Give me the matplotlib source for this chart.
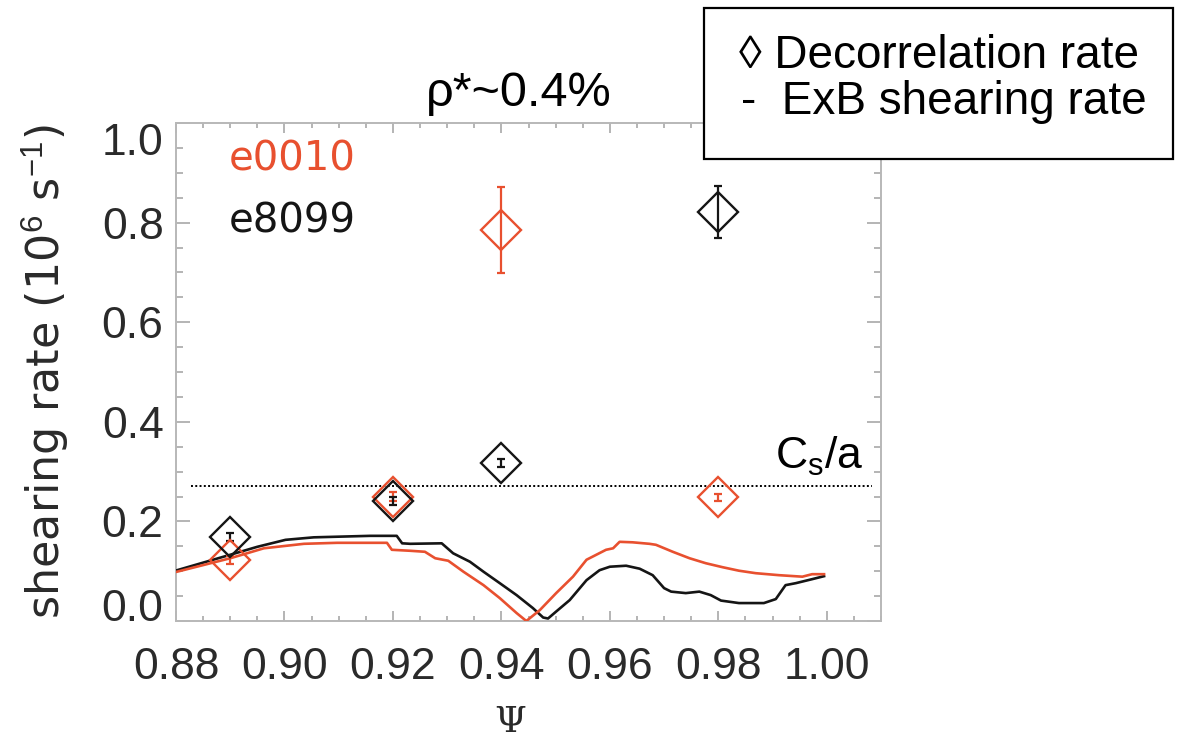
import matplotlib
matplotlib.use("Agg")
import matplotlib.pyplot as plt
from matplotlib.patches import Rectangle
from matplotlib.ticker import MultipleLocator, FixedLocator, FixedFormatter

plt.rcParams['font.family'] = ['Liberation Sans', 'DejaVu Sans']
plt.rcParams['mathtext.fontset'] = 'custom'
plt.rcParams['mathtext.rm'] = 'Liberation Sans'

RED = '#e8502f'
BLACK = '#151515'
GREY_TXT = '#2a2a2a'

# ExB shearing rate profiles (10^6 s^-1) vs normalized flux Psi
psi_e0010 = [0.8802, 0.8900, 0.8962, 0.9036, 0.9097, 0.9189, 0.9198, 0.9232, 0.9259,
             0.9278, 0.9302, 0.9330, 0.9367, 0.9397, 0.9428, 0.9446, 0.9471, 0.9501,
             0.9532, 0.9557, 0.9593, 0.9606, 0.9618, 0.9642, 0.9673, 0.9685, 0.9716,
             0.9747, 0.9777, 0.9808, 0.9838, 0.9869, 0.9912, 0.9955, 0.9973, 0.9995]
shear_e0010 = [0.099, 0.126, 0.146, 0.155, 0.157, 0.157, 0.143, 0.141, 0.139,
               0.126, 0.121, 0.099, 0.072, 0.046, 0.016, 0.000, 0.022, 0.056,
               0.089, 0.123, 0.143, 0.146, 0.159, 0.158, 0.155, 0.153, 0.139,
               0.126, 0.116, 0.108, 0.101, 0.096, 0.092, 0.089, 0.094, 0.094]

psi_e8099 = [0.8802, 0.8900, 0.8950, 0.9002, 0.9054, 0.9158, 0.9207, 0.9217, 0.9232,
             0.9290, 0.9311, 0.9342, 0.9367, 0.9397, 0.9428, 0.9458, 0.9477, 0.9486,
             0.9501, 0.9526, 0.9557, 0.9581, 0.9600, 0.9630, 0.9655, 0.9679, 0.9700,
             0.9713, 0.9740, 0.9765, 0.9786, 0.9805, 0.9838, 0.9884, 0.9906, 0.9924,
             0.9943, 0.9973, 0.9995]
shear_e8099 = [0.102, 0.133, 0.149, 0.163, 0.168, 0.171, 0.171, 0.156, 0.155,
               0.156, 0.136, 0.119, 0.099, 0.076, 0.052, 0.026, 0.007, 0.005,
               0.019, 0.042, 0.082, 0.102, 0.109, 0.111, 0.105, 0.092, 0.066,
               0.059, 0.056, 0.059, 0.052, 0.041, 0.036, 0.036, 0.044, 0.072,
               0.076, 0.084, 0.090]

# Decorrelation rates with uncertainties
psi_decor = [0.89, 0.92, 0.94, 0.98]
decor_e0010 = [0.122, 0.250, 0.785, 0.248]
decor_err_e0010 = [0.008, 0.010, 0.086, 0.008]
decor_e8099 = [0.169, 0.240, 0.317, 0.821]
decor_err_e8099 = [0.008, 0.008, 0.008, 0.052]

cs_over_a = 0.271

x_ticks = [0.88, 0.90, 0.92, 0.94, 0.96, 0.98, 1.00]
x_ticklabels = ['0.88', '0.90', '0.92', '0.94', '0.96', '0.98', '1.00']
y_ticks = [0.0, 0.2, 0.4, 0.6, 0.8, 1.0]
y_ticklabels = ['0.0', '0.2', '0.4', '0.6', '0.8', '1.0']

fig = plt.figure(figsize=(11.84, 7.39), dpi=100)
ax = fig.add_axes([176 / 1184, 1 - 621 / 739, 705 / 1184, 498 / 739])

ax.set_xlim(0.88, 1.01)
ax.set_ylim(0.0, 1.0)

ax.plot(psi_e8099, shear_e8099, color=BLACK, lw=1.9, zorder=3)
ax.plot(psi_e0010, shear_e0010, color=RED, lw=1.9, zorder=3)

ax.plot([0.8827, 1.0083], [cs_over_a, cs_over_a], color='black', lw=1.4,
        linestyle=(0, (1, 1.2)), zorder=2)

for vals, errs, col in [(decor_e0010, decor_err_e0010, RED),
                        (decor_e8099, decor_err_e8099, BLACK)]:
    ax.errorbar(psi_decor, vals, yerr=errs, fmt='none', ecolor=col,
                elinewidth=1.6, capsize=3.0, capthick=1.6, zorder=4)
    ax.plot(psi_decor, vals, linestyle='none', marker='D', markersize=20,
            markerfacecolor='none', markeredgecolor=col, markeredgewidth=1.7,
            zorder=5)

# Axis styling
for sp in ax.spines.values():
    sp.set_color('#b8b8b8')
    sp.set_linewidth(1.4)

ax.xaxis.set_major_locator(FixedLocator(x_ticks))
ax.xaxis.set_major_formatter(FixedFormatter(x_ticklabels))
ax.xaxis.set_minor_locator(MultipleLocator(0.005))
ax.yaxis.set_major_locator(FixedLocator(y_ticks))
ax.yaxis.set_major_formatter(FixedFormatter(y_ticklabels))
ax.yaxis.set_minor_locator(MultipleLocator(0.05))

ax.tick_params(axis='both', which='both', direction='in', top=True, right=True,
               color='#a8a8a8', width=1.2, labelcolor=GREY_TXT)
ax.tick_params(axis='x', which='major', length=7, labelsize=32, pad=19)
ax.tick_params(axis='x', which='minor', length=3.5)
ax.tick_params(axis='y', which='major', length=10, labelsize=32, pad=9)
ax.tick_params(axis='y', which='minor', length=5)

ylabs = ax.get_yticklabels()
ylabs[0].set_verticalalignment('baseline')
ylabs[-1].set_verticalalignment('top')

ax.set_ylabel('shearing rate (10$^{6}$ s$^{-1}$)', fontsize=32, color=GREY_TXT,
              family=['DejaVu Sans'])
ax.yaxis.set_label_coords(-0.147, 0.5)
ax.set_xlabel('Ψ', fontsize=26, color=GREY_TXT, family=['DejaVu Serif'])
ax.xaxis.set_label_coords(0.474, -0.168)

ax.text(0.8898, 0.926, 'e0010', color=RED, fontsize=29, va='center', ha='left',
        family=['DejaVu Sans'])
ax.text(0.8898, 0.803, 'e8099', color=BLACK, fontsize=29, va='center', ha='left',
        family=['DejaVu Sans'])

ax.text(0.9905, 0.305, 'C$_{\\mathregular{s}}$/a', fontsize=32, color='black',
        ha='left', va='baseline')

fig.text(426 / 1184, 1 - 106 / 739, 'ρ*~0.4%', fontsize=35, color='black',
         ha='left', va='baseline')

# Annotation box describing the symbols
fig.patches.append(Rectangle((704 / 1184, 1 - 159 / 739), 469 / 1184, 151 / 739,
                             transform=fig.transFigure, fill=True,
                             facecolor='white', edgecolor='black', lw=1.6))
fig.text(739 / 1184, 1 - 68 / 739, '◊ Decorrelation rate', fontsize=33,
         color='black', ha='left', va='baseline')
fig.text(741 / 1184, 1 - 114 / 739, '-  ExB shearing rate', fontsize=33,
         color='black', ha='left', va='baseline')

fig.savefig('out.png', dpi=100)
